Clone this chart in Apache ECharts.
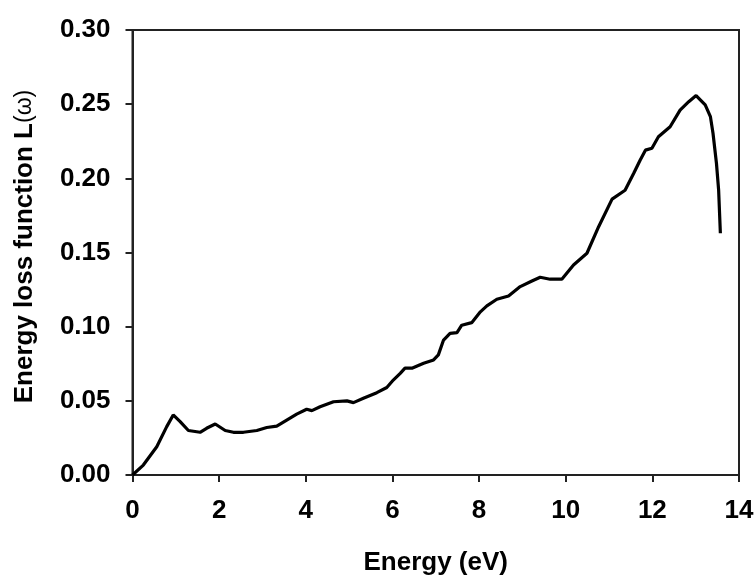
<!DOCTYPE html>
<html>
<head>
<meta charset="utf-8">
<script src="https://cdn.jsdelivr.net/npm/echarts@6/dist/echarts.min.js"></script>
<style>html,body{margin:0;padding:0;background:#fff;}#c{width:756px;height:575px;}</style>
</head>
<body>
<div id="c"></div>
<script>
const energy = [0,0.25,0.56,0.79,0.94,1.10,1.29,1.56,1.71,1.91,2.14,2.33,2.56,2.87,3.10,3.33,3.56,3.79,4.02,4.14,4.33,4.64,4.95,5.10,5.33,5.64,5.87,6.02,6.18,6.29,6.45,6.72,6.95,7.06,7.18,7.33,7.49,7.60,7.83,8.03,8.18,8.41,8.68,8.95,9.22,9.41,9.64,9.91,10.18,10.49,10.76,11.07,11.37,11.57,11.72,11.84,11.99,12.14,12.41,12.64,12.84,13.01,13.22,13.34,13.40,13.48,13.53,13.57];
const lossFn = [0,0.0067,0.019,0.0326,0.0405,0.036,0.030,0.0288,0.0315,0.0344,0.030,0.0288,0.0288,0.030,0.032,0.033,0.037,0.041,0.0443,0.0434,0.046,0.0494,0.050,0.0488,0.0517,0.0555,0.0590,0.064,0.0685,0.072,0.072,0.0753,0.0776,0.081,0.091,0.0955,0.096,0.101,0.1027,0.110,0.114,0.1185,0.1207,0.127,0.1308,0.1333,0.132,0.132,0.1416,0.1495,0.1674,0.186,0.192,0.2034,0.2124,0.219,0.2203,0.228,0.2348,0.246,0.2517,0.2558,0.2495,0.2416,0.2304,0.210,0.192,0.163];
const xTicks = [0,2,4,6,8,10,12,14];
const yTicks = [0.00,0.05,0.10,0.15,0.20,0.25,0.30];
const xTitle = 'Energy (eV)';
const yTitleMain = 'Energy loss function L';
const yTitleSym = '(ω)';

const font = 'Arial, "Liberation Sans", sans-serif';
const chart = echarts.init(document.getElementById('c'), null, {renderer:'canvas'});
chart.setOption({
  animation:false,
  backgroundColor:'#fff',
  grid:{left:132.5, right:17, top:30, bottom:100, containLabel:false, outerBoundsMode:'none',
        show:true, borderColor:'#222', borderWidth:2, backgroundColor:'transparent'},
  xAxis:{
    type:'value', min:xTicks[0], max:xTicks[xTicks.length-1], interval:2,
    name:xTitle, nameLocation:'middle', nameGap:75,
    nameTextStyle:{fontFamily:font, fontWeight:'bold', fontSize:26, color:'#000'},
    axisLine:{show:true, onZero:false, lineStyle:{color:'#222', width:2}},
    axisTick:{show:true, inside:false, length:7, lineStyle:{color:'#222', width:2}},
    axisLabel:{margin:23, fontFamily:font, fontWeight:'bold', fontSize:26, color:'#000'},
    splitLine:{show:false}
  },
  yAxis:{
    type:'value', min:yTicks[0], max:yTicks[yTicks.length-1], interval:0.05,
    name:'{b|'+yTitleMain+'}{s|'+yTitleSym+'}', nameLocation:'middle', nameGap:95, nameRotate:90,
    nameTextStyle:{padding:[0,0,0,12], rich:{
      b:{fontFamily:font, fontWeight:'bold', fontSize:26, color:'#000'},
      s:{fontFamily:font, fontWeight:'normal', fontSize:23, color:'#000'}
    }},
    axisLine:{show:true, lineStyle:{color:'#222', width:2}},
    axisTick:{show:true, inside:false, length:7, lineStyle:{color:'#222', width:2}},
    axisLabel:{margin:22, fontFamily:font, fontWeight:'bold', fontSize:26, color:'#000', formatter:v=>v.toFixed(2)},
    splitLine:{show:false}
  },
  series:[{
    type:'line', data:energy.map((e,i)=>[e,lossFn[i]]),
    showSymbol:false, smooth:false,
    lineStyle:{color:'#000', width:3.2}, itemStyle:{color:'#000'}
  }]
});
</script>
</body>
</html>
